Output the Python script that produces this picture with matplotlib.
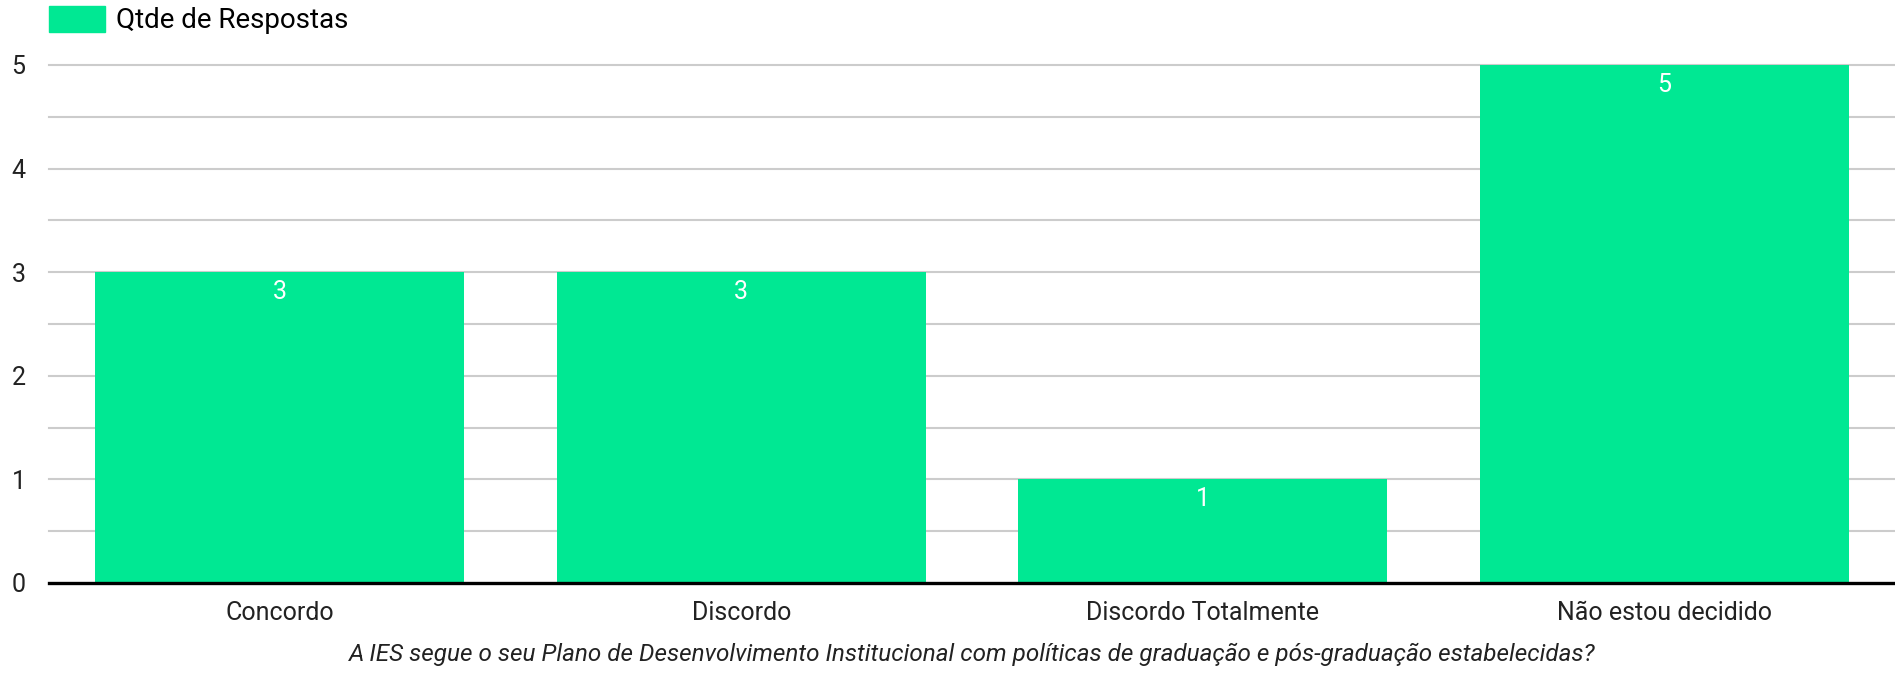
import matplotlib
matplotlib.use("Agg")
import matplotlib.pyplot as plt
from matplotlib.patches import Patch

categories = ["Concordo", "Discordo", "Discordo Totalmente", "Não estou decidido"]
values = [3, 3, 1, 5]
series_name = "Qtde de Respostas"
y_ticks = [0, 1, 2, 3, 4, 5]
x_title = "A IES segue o seu Plano de Desenvolvimento Institucional com políticas de graduação e pós-graduação estabelecidas?"

plt.rcParams['font.family'] = ['Roboto', 'DejaVu Sans']
W, H = 1895, 676
fig = plt.figure(figsize=(W / 100, H / 100), dpi=100)
ax = fig.add_axes([49 / W, 1 - 583 / H, 1 - 49 / W, (583 - 65) / H])

color = "#00E893"
x = range(len(categories))
bars = ax.bar(x, values, width=0.8, color=color, zorder=2)
ax.set_xlim(-0.5, len(categories) - 0.5)
ax.set_ylim(0, 5)

for v in [i * 0.5 for i in range(1, 11)]:
    ax.axhline(v, color="#cccccc", lw=1.5, zorder=1, clip_on=False)
ax.axhline(0, color="black", lw=2.4, zorder=3, clip_on=False)

for b, v in zip(bars, values):
    ax.annotate(str(v), (b.get_x() + b.get_width() / 2, v), xytext=(0, -20),
                textcoords="offset pixels", ha="center", va="center",
                color="white", fontsize=18, zorder=4)

for s in ax.spines.values():
    s.set_visible(False)
ax.set_yticks(y_ticks)
ax.set_yticklabels([str(t) for t in y_ticks], fontsize=18, color="#222222")
ax.set_xticks(list(x))
ax.set_xticklabels(categories, fontsize=18, color="#222222")
ax.tick_params(axis="y", length=0, pad=27)
for lab in ax.get_yticklabels():
    lab.set_horizontalalignment("left")
ax.tick_params(axis="x", length=0, pad=13)
ax.set_xlabel(x_title, fontsize=17.5, style="italic", color="#222222", labelpad=13)

fig.legend(handles=[Patch(color=color, label=series_name)], loc="upper left",
           bbox_to_anchor=(49 / W, 1 - 6 / H), frameon=False, fontsize=20,
           borderpad=0, borderaxespad=0,
           handlelength=2.0, handleheight=1.05, handletextpad=0.4)

fig.savefig("out.png", dpi=100, facecolor="white")
